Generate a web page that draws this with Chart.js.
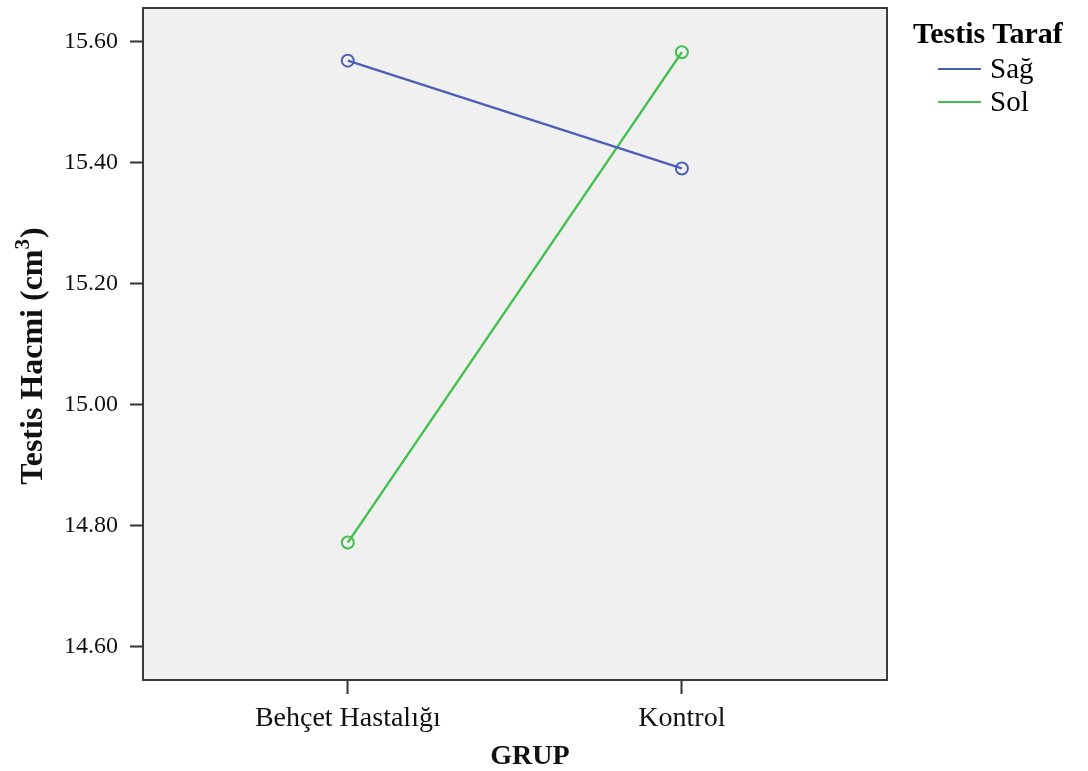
<!DOCTYPE html>
<html>
<head>
<meta charset="utf-8">
<script src="https://cdn.jsdelivr.net/npm/chart.js@4.4.1/dist/chart.umd.min.js"></script>
<style>
  html, body { margin: 0; padding: 0; background: #fff; }
  #wrap { position: relative; width: 1088px; height: 771px; }
  #legend { position: absolute; left: 913px; top: 14px; font-family: "Liberation Serif", "Times New Roman", serif; color: #000; }
  #legend .title { font-weight: bold; font-size: 30px; line-height: 38px; }
  #legend .item { position: relative; height: 33px; font-size: 29px; line-height: 33px; padding-left: 77px; }
  #legend .item span.swatch { position: absolute; left: 25px; top: 16px; width: 43px; height: 2px; }
</style>
</head>
<body>
<div id="wrap">
  <canvas id="chart" width="1088" height="771"></canvas>
  <div id="legend"></div>
</div>
<script>
// Data
var groups = ['Behçet Hastalığı', 'Kontrol'];
var seriesNames = ['Sağ', 'Sol'];
var sagValues = [15.568, 15.390];
var solValues = [14.772, 15.582];
var yTicks = [14.60, 14.80, 15.00, 15.20, 15.40, 15.60];
var legendTitle = 'Testis Taraf';
var xTitle = 'GRUP';
var yTitle = ['Testis Hacmi (cm', '3', ')'];   // text, superscript, tail

var seriesColors = ['#4b5fb8', '#41c14c'];

function toPoints(values) {
    return values.map(function(v, i) { return { x: i + 1, y: v }; });
}

// Grey plot background and dark frame round the chart area
var plotFrame = {
    id: 'plotFrame',
    beforeDatasetsDraw: function(chart) {
        var a = chart.chartArea, ctx = chart.ctx;
        ctx.save();
        ctx.fillStyle = '#f0f0f0';
        ctx.fillRect(a.left, a.top, a.right - a.left, a.bottom - a.top);
        ctx.restore();
    },
    afterDatasetsDraw: function(chart) {
        var a = chart.chartArea, ctx = chart.ctx;
        ctx.save();
        ctx.strokeStyle = '#3a3a3a';
        ctx.lineWidth = 2;
        ctx.strokeRect(a.left, a.top, a.right - a.left, a.bottom - a.top);
        ctx.restore();
    }
};

// Axis titles, drawn by hand so the y title can carry a real superscript
var axisTitles = {
    id: 'axisTitles',
    afterDraw: function(chart) {
        var ctx = chart.ctx;
        ctx.save();
        ctx.fillStyle = '#111';
        ctx.textBaseline = 'alphabetic';

        ctx.font = 'bold 28px "Liberation Serif"';
        ctx.textAlign = 'center';
        ctx.fillText(xTitle, 530, 764);

        var big = 'bold 32px "Liberation Serif"', small = 'bold 21px "Liberation Serif"';
        ctx.font = big;
        var w0 = ctx.measureText(yTitle[0]).width, w2 = ctx.measureText(yTitle[2]).width;
        ctx.font = small;
        var w1 = ctx.measureText(yTitle[1]).width;
        var total = w0 + w1 + 1 + w2;
        ctx.translate(42, 356);
        ctx.rotate(-Math.PI / 2);
        ctx.textAlign = 'left';
        var x = -total / 2;
        ctx.font = big;
        ctx.fillText(yTitle[0], x, 0);
        x += w0;
        ctx.font = small;
        ctx.fillText(yTitle[1], x, -13);
        x += w1 + 1;
        ctx.font = big;
        ctx.fillText(yTitle[2], x, 0);
        ctx.restore();
    }
};

// no extra room for overhanging tick labels, the frame is placed by padding
function noOverhang(scale) {
    scale.paddingTop = 0;
    scale.paddingBottom = 0;
    scale.paddingLeft = 0;
    scale.paddingRight = 0;
}

var chart = new Chart(document.getElementById('chart'), {
    type: 'line',
    data: {
        datasets: [
            { label: seriesNames[0], data: toPoints(sagValues) },
            { label: seriesNames[1], data: toPoints(solValues) }
        ].map(function(ds, i) {
            ds.borderColor = seriesColors[i];
            ds.backgroundColor = 'rgba(0,0,0,0)';
            ds.borderWidth = 2.4;
            ds.pointRadius = 6;
            ds.pointBorderWidth = 2;
            ds.pointBorderColor = seriesColors[i];
            ds.pointBackgroundColor = 'rgba(0,0,0,0)';
            ds.tension = 0;
            return ds;
        })
    },
    plugins: [plotFrame, axisTitles],
    options: {
        responsive: false,
        animation: false,
        layout: { padding: { top: 8, right: 201, left: 0, bottom: 0 } },
        plugins: {
            legend: { display: false },
            tooltip: { enabled: false }
        },
        scales: {
            x: {
                type: 'linear',
                min: 0.387,
                max: 2.614,
                afterBuildTicks: function(scale) {
                    scale.ticks = groups.map(function(g, i) { return { value: i + 1 }; });
                },
                afterFit: function(scale) { scale.height = 91; noOverhang(scale); },
                border: { display: false },
                grid: { drawOnChartArea: false, drawTicks: true, tickLength: 14, tickWidth: 2, tickColor: '#333' },
                ticks: {
                    padding: 8,
                    maxRotation: 0,
                    color: '#111',
                    font: { family: 'Liberation Serif', size: 28 },
                    callback: function(v) { return groups[v - 1]; }
                }
            },
            y: {
                min: 14.545,
                max: 15.655,
                afterBuildTicks: function(scale) {
                    scale.ticks = yTicks.map(function(v) { return { value: v }; });
                },
                afterFit: function(scale) { scale.width = 143; noOverhang(scale); },
                border: { display: false },
                grid: { drawOnChartArea: false, drawTicks: true, tickLength: 13, tickWidth: 2, tickColor: '#333' },
                ticks: {
                    padding: 12,
                    color: '#111',
                    font: { family: 'Liberation Serif', size: 24 },
                    callback: function(v) { return Number(v).toFixed(2); }
                }
            }
        }
    }
});

// HTML legend built from the datasets
var legend = document.getElementById('legend');
var html = '<div class="title">' + legendTitle + '</div>';
chart.data.datasets.forEach(function(ds) {
    html += '<div class="item"><span class="swatch" style="background:' + ds.borderColor + '"></span>' + ds.label + '</div>';
});
legend.innerHTML = html;
</script>
</body>
</html>
